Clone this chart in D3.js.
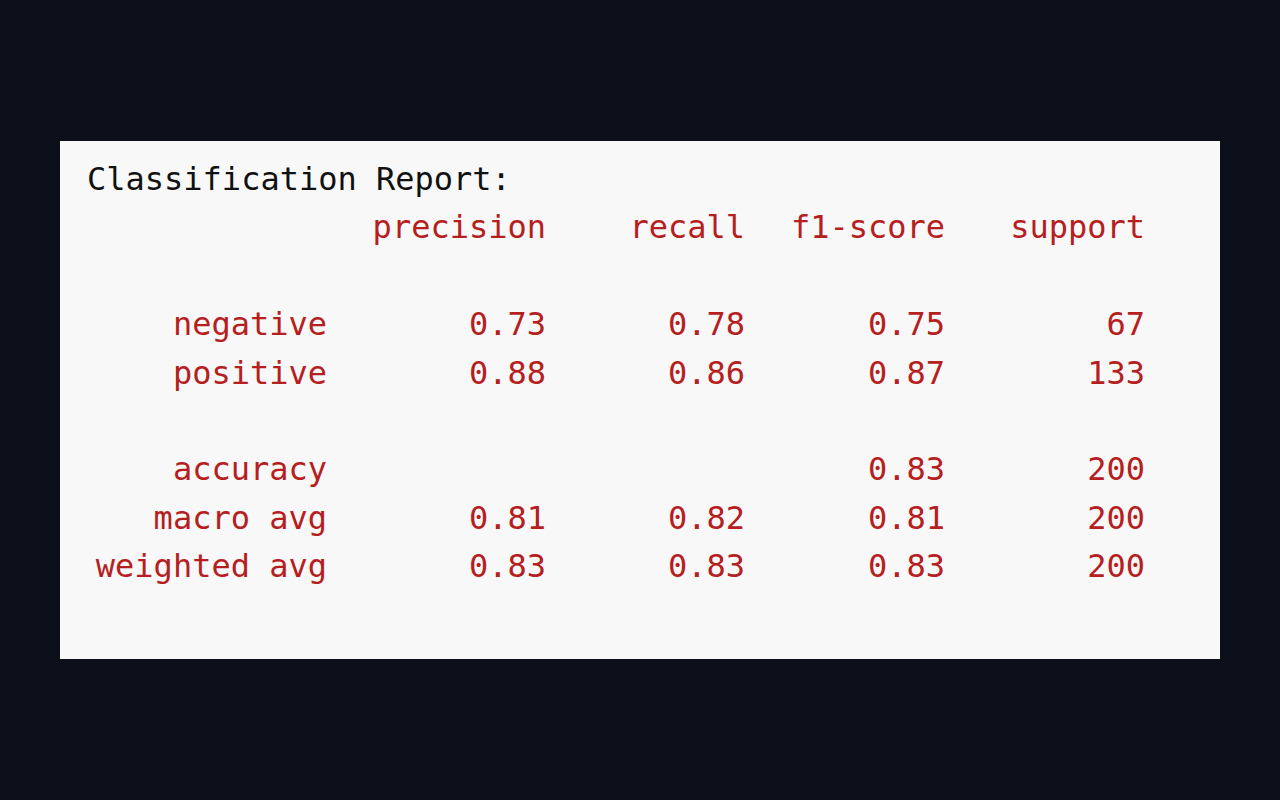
<!DOCTYPE html>
<html><head><meta charset="utf-8">
<script src="https://cdn.jsdelivr.net/npm/d3@7"></script>
<style>html,body{margin:0;background:#0c0f1a;}</style>
</head><body>
<svg id="c" width="1280" height="800"></svg>
<script>
const title = "Classification Report:";
const columns = ["precision","recall","f1-score","support"];
const rowLabels = ["negative","positive","","accuracy","macro avg","weighted avg"];
const precision = ["0.73","0.88",null,"","0.81","0.83"];
const recall    = ["0.78","0.86",null,"","0.82","0.83"];
const f1score   = ["0.75","0.87",null,"0.83","0.81","0.83"];
const support   = ["67","133",null,"200","200","200"];

const svg = d3.select("#c");
svg.append("rect").attr("x",60).attr("y",141).attr("width",1160).attr("height",518).attr("fill","#f8f8f8");
const font = "'DejaVu Sans Mono', 'Liberation Mono', monospace";
const red = "#b5201e";
// line index scale: 0 title, 1 header, 2 blank, 3.. rows
const y = d3.scaleLinear().domain([0,8]).range([179,566]);
const colX = d3.scaleOrdinal().domain(["label",...columns]).range([327,546,745,945,1145]);
const g = svg.append("g").attr("font-family",font).attr("font-size",32);
g.append("text").attr("x",87).attr("y",y(0)+11).attr("fill","#111").text(title);
g.selectAll(".h").data(columns).join("text").attr("x",d=>colX(d)).attr("y",y(1)+11)
 .attr("text-anchor","end").attr("fill",red).text(d=>d);
const cols = [precision,recall,f1score,support];
rowLabels.forEach((lab,i)=>{
  if(!lab) return;
  const yy = y(i+3)+11;
  g.append("text").attr("x",colX("label")).attr("y",yy).attr("text-anchor","end").attr("fill",red).attr("xml:space","preserve").text(lab);
  cols.forEach((arr,j)=>{
    if(arr[i]) g.append("text").attr("x",colX(columns[j])).attr("y",yy).attr("text-anchor","end").attr("fill",red).text(arr[i]);
  });
});
</script></body></html>
